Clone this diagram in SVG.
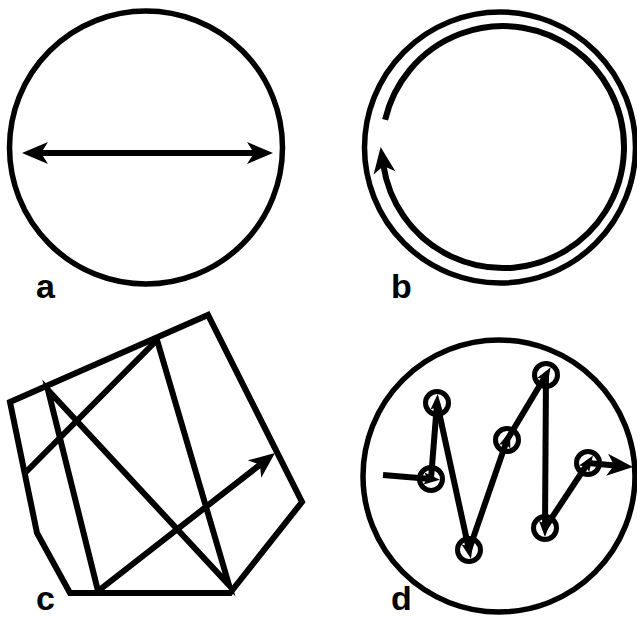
<svg xmlns="http://www.w3.org/2000/svg" width="637" height="618" viewBox="0 0 637 618">
<style>
.s{fill:none;stroke:#000;stroke-width:5.5}
.l{fill:none;stroke:#000;stroke-width:6}
.t{fill:#000;stroke:none}
.sc{fill:none;stroke:#000;stroke-width:5}
.lbl{font-family:"Liberation Sans",Arial,sans-serif;font-weight:bold;font-size:34px;fill:#000}
</style>
<defs>
<marker id="ah" markerUnits="userSpaceOnUse" markerWidth="30" markerHeight="24" refX="8" refY="11" orient="auto" overflow="visible">
<path class="t" d="M0,0 L26,11 L0,22 L7,11 Z"/>
</marker>
<marker id="ahs" markerUnits="userSpaceOnUse" markerWidth="30" markerHeight="24" refX="8" refY="11" orient="auto-start-reverse" overflow="visible">
<path class="t" d="M0,0 L26,11 L0,22 L7,11 Z"/>
</marker>
<marker id="dart" markerUnits="userSpaceOnUse" markerWidth="20" markerHeight="12" refX="7" refY="6" orient="auto" overflow="visible">
<path class="t" d="M0,0 L16,6 L0,12 L3,6 Z"/>
</marker>
</defs>

<g id="panel-a">
<circle class="s" cx="146" cy="147.5" r="136.5"/>
<text class="lbl" x="36" y="298">a</text>
</g>

<g id="panel-b">
<circle class="s" cx="500" cy="147.5" r="135.5"/>
<text class="lbl" x="391" y="298">b</text>
</g>

<g id="panel-c">
<polygon class="l" points="10,402 208,315 302,502 230,593 70,593 37,533"/>
<text class="lbl" x="36" y="610">c</text>
</g>

<g id="panel-d">
<circle class="s" cx="499" cy="476" r="136"/>
<g id="d-nodes">
<circle class="sc" cx="431" cy="479" r="11.5"/>
<circle class="sc" cx="437" cy="403" r="11.5"/>
<circle class="sc" cx="469" cy="550" r="11.5"/>
<circle class="sc" cx="507" cy="440" r="11.5"/>
<circle class="sc" cx="546" cy="375" r="11.5"/>
<circle class="sc" cx="545" cy="528" r="11.5"/>
<circle class="sc" cx="588" cy="463" r="11.5"/>
</g>
<text class="lbl" x="391" y="610">d</text>
</g>

<g id="connectors">
<line class="l" x1="40" y1="153" x2="255" y2="153" marker-start="url(#ahs)" marker-end="url(#ah)"/>
<path class="l" d="M385.1,119.8 A121,121 0 1 1 383.3,164.9" marker-end="url(#ah)"/>
<path class="l" stroke-linejoin="miter" stroke-miterlimit="10" d="M25,473 L157,340 L229,585 L48,390 L98,591 L260.8,464.1" marker-end="url(#ah)"/>
<line class="l" x1="383" y1="475" x2="431" y2="479" marker-end="url(#dart)"/>
<line class="l" x1="431" y1="479" x2="437" y2="403" marker-end="url(#dart)"/>
<line class="l" x1="437" y1="403" x2="469" y2="550" marker-end="url(#dart)"/>
<line class="l" x1="469" y1="550" x2="507" y2="440" marker-end="url(#dart)"/>
<line class="l" x1="507" y1="440" x2="546" y2="375" marker-end="url(#dart)"/>
<line class="l" x1="546" y1="375" x2="545" y2="528" marker-end="url(#dart)"/>
<line class="l" x1="545" y1="528" x2="588" y2="463" marker-end="url(#dart)"/>
<line class="l" x1="588" y1="463" x2="615.1" y2="465.4" marker-end="url(#ah)"/>
</g>
</svg>
